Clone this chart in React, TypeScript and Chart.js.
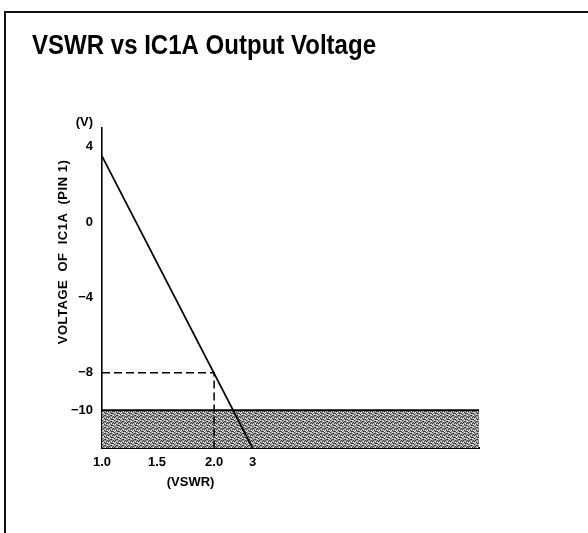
import { useEffect, useRef } from 'react';
import { Chart, registerables } from 'chart.js';

Chart.register(...registerables);

// ---- data ----
const yTickValues = [4, 0, -4, -8, -10];
const xTickVswr = [1.0, 1.5, 2.0, 3];
const xTickLabels = ['1.0', '1.5', '2.0', '3'];
const lineVswr = [1.0, 3];
const lineVolts = [3.5, -12];
const refVswr = 2.0;
const refVolts = -8;
const bandVolts = [-12, -10];

// ---- non-linear VSWR axis mapping (tick positions on the drawn axis) ----
const X_AXIS_POS = [1.0, 1.5, 2.02, 2.37];
const X_MIN = 1.0;
const X_MAX = 4.43;
const Y_MIN = -12;
const Y_MAX = 5;

function vswrToAxis(v: number): number {
  for (let i = 0; i < xTickVswr.length - 1; i++) {
    const a = xTickVswr[i], b = xTickVswr[i + 1];
    if (v <= b || i === xTickVswr.length - 2) {
      const t = (v - a) / (b - a);
      return X_AXIS_POS[i] + t * (X_AXIS_POS[i + 1] - X_AXIS_POS[i]);
    }
  }
  return v;
}

const FONT = '"Liberation Sans", Arial, Helvetica, sans-serif';

function makePattern(): CanvasPattern | string {
  const c = document.createElement('canvas');
  c.width = 6;
  c.height = 6;
  const g = c.getContext('2d');
  if (!g) return '#999';
  g.fillStyle = '#9c9c9c';
  g.fillRect(0, 0, 6, 6);
  const dark = [[0, 0], [3, 1], [1, 2], [4, 3], [2, 4], [5, 5], [0, 3], [3, 5], [5, 2], [2, 1], [4, 5]];
  const light = [[2, 0], [5, 1], [0, 5], [3, 3], [1, 4], [4, 0], [5, 4]];
  g.fillStyle = '#3a3a3a';
  dark.forEach(([x, y]) => g.fillRect(x, y, 1, 1));
  g.fillStyle = '#e8e8e8';
  light.forEach(([x, y]) => g.fillRect(x, y, 1, 1));
  return g.createPattern(c, 'repeat') || '#999';
}

const decorPlugin = {
  id: 'decor',
  afterDraw(chart: any) {
    const ctx = chart.ctx as CanvasRenderingContext2D;
    const area = chart.chartArea;
    const yScale = chart.scales.y;
    const xScale = chart.scales.x;
    ctx.save();
    // frame
    ctx.strokeStyle = '#111';
    ctx.lineWidth = 2;
    ctx.beginPath();
    ctx.moveTo(5, 533);
    ctx.lineTo(5, 12);
    ctx.lineTo(588, 12);
    ctx.stroke();
    // title (slightly condensed, heavy)
    ctx.fillStyle = '#000';
    ctx.save();
    ctx.font = `bold 27px ${FONT}`;
    ctx.textAlign = 'left';
    ctx.textBaseline = 'alphabetic';
    ctx.translate(32, 54);
    ctx.scale(0.89, 1);
    ctx.fillText('VSWR vs IC1A Output Voltage', 0, 0);
    ctx.restore();
    // (V) unit label
    ctx.font = `bold 13px ${FONT}`;
    ctx.textAlign = 'right';
    ctx.textBaseline = 'middle';
    ctx.fillText('(V)', area.left - 9, yScale.getPixelForValue(Y_MAX) - 6);
    // x axis title
    ctx.textAlign = 'center';
    ctx.fillText('(VSWR)', xScale.getPixelForValue(vswrToAxis(1.75)) + 5, area.bottom + 34);
    // y axis title
    ctx.translate(63, (area.top + area.bottom) / 2 - 36);
    ctx.rotate(-Math.PI / 2);
    (ctx as any).letterSpacing = '0.5px';
    ctx.fillText('VOLTAGE  OF  IC1A  (PIN 1)', 0, 0);
    ctx.restore();
  },
};

export default function App() {
  const ref = useRef<HTMLCanvasElement>(null);
  useEffect(() => {
    if (!ref.current) return;
    const pattern = makePattern();
    const chart = new Chart(ref.current, {
      type: 'line',
      data: {
        datasets: [
          {
            label: 'IC1A output',
            data: lineVswr.map((v, i) => ({ x: vswrToAxis(v), y: lineVolts[i] })),
            borderColor: '#000',
            borderWidth: 1.7,
            pointRadius: 0,
            fill: false,
          },
          {
            label: 'reference',
            data: [
              { x: vswrToAxis(xTickVswr[0]), y: refVolts },
              { x: vswrToAxis(refVswr), y: refVolts },
              { x: vswrToAxis(refVswr), y: bandVolts[0] },
            ],
            borderColor: '#000',
            borderWidth: 1.5,
            borderDash: [8, 4],
            pointRadius: 0,
            fill: false,
          },
          {
            label: 'band',
            data: [
              { x: X_MIN, y: bandVolts[1] },
              { x: X_MAX, y: bandVolts[1] },
            ],
            borderColor: '#000',
            borderWidth: 2,
            pointRadius: 0,
            backgroundColor: pattern as any,
            fill: { value: bandVolts[0] },
          },
        ],
      },
      options: {
        responsive: false,
        animation: false,
        events: [],
        layout: { padding: { top: 128, right: 109, left: 0, bottom: 0 } },
        plugins: {
          legend: { display: false },
          tooltip: { enabled: false },
          title: { display: false },
        },
        scales: {
          x: {
            type: 'linear',
            min: X_MIN,
            max: X_MAX,
            afterFit: (s: any) => { s.height = 85; },
            afterBuildTicks: (s: any) => {
              s.ticks = X_AXIS_POS.map((p) => ({ value: p }));
            },
            grid: { display: true, drawOnChartArea: false, drawTicks: false },
            border: { display: true, color: '#000', width: 2 },
            ticks: {
              padding: 7,
              color: '#000',
              font: { family: FONT, size: 13, weight: 'bold' },
              autoSkip: false,
              maxRotation: 0,
              callback: (val: any) => {
                const i = X_AXIS_POS.findIndex((p) => Math.abs(p - Number(val)) < 1e-6);
                return i >= 0 ? xTickLabels[i] : '';
              },
            },
          },
          y: {
            type: 'linear',
            min: Y_MIN,
            max: Y_MAX,
            afterFit: (s: any) => { s.width = 102; },
            afterBuildTicks: (s: any) => {
              s.ticks = yTickValues.map((v) => ({ value: v }));
            },
            grid: { display: true, drawOnChartArea: false, drawTicks: false },
            border: { display: true, color: '#000', width: 1.6 },
            ticks: {
              padding: 9,
              color: '#000',
              font: { family: FONT, size: 13, weight: 'bold' },
              autoSkip: false,
              callback: (val: any) => {
                const n = Number(val);
                return n < 0 ? '\u2212' + Math.abs(n) : String(n);
              },
            },
          },
        },
      },
      plugins: [decorPlugin],
    });
    return () => chart.destroy();
  }, []);
  return (
    <div style={{ position: 'fixed', left: 0, top: 0, width: 588, height: 533, background: '#fff' }}>
      <canvas ref={ref} width={588} height={533} style={{ width: 588, height: 533, display: 'block' }} />
    </div>
  );
}
